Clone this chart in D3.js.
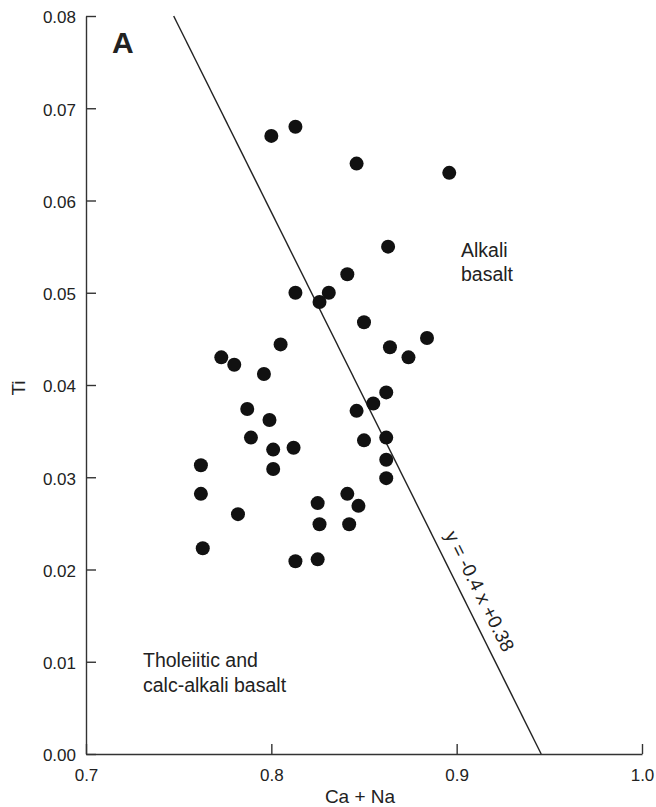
<!DOCTYPE html>
<html>
<head>
<meta charset="utf-8">
<script src="https://cdn.jsdelivr.net/npm/d3@7"></script>
<style>
  body { margin: 0; background: #fff; }
  svg text { font-family: "Liberation Sans", Arial, sans-serif; fill: #222; }
</style>
</head>
<body>
<div id="chart"></div>
<script>
// Ca + Na (x) and Ti (y) for each sample
var caNa = [0.800, 0.813, 0.846, 0.896, 0.863, 0.841, 0.813, 0.831, 0.826, 0.850,
            0.884, 0.805, 0.864, 0.874, 0.773, 0.780, 0.796, 0.787, 0.799, 0.862,
            0.855, 0.846, 0.789, 0.801, 0.812, 0.850, 0.862, 0.762, 0.801, 0.862,
            0.862, 0.762, 0.782, 0.825, 0.841, 0.847, 0.826, 0.842, 0.763, 0.813,
            0.825];
var ti = [0.0670, 0.0680, 0.0640, 0.0630, 0.0550, 0.0520, 0.0500, 0.0500, 0.0490, 0.0468,
          0.0451, 0.0444, 0.0441, 0.0430, 0.0430, 0.0422, 0.0412, 0.0374, 0.0362, 0.0392,
          0.0380, 0.0372, 0.0343, 0.0330, 0.0332, 0.0340, 0.0343, 0.0313, 0.0309, 0.0319,
          0.0299, 0.0282, 0.0260, 0.0272, 0.0282, 0.0269, 0.0249, 0.0249, 0.0223, 0.0209,
          0.0211];

// dividing line y = -0.4x + 0.38, as drawn (ends)
var lineX = [0.7473, 0.9456];
var lineY = [0.08, 0.00];

var xTicks = [0.7, 0.8, 0.9, 1.0];
var yTicks = [0.00, 0.01, 0.02, 0.03, 0.04, 0.05, 0.06, 0.07, 0.08];

var width = 656, height = 807;

var svg = d3.select("#chart")
    .append("svg")
    .attr("width", width)
    .attr("height", height);

var xScale = d3.scaleLinear().domain([0.7, 1.0]).range([86, 642]);
var yScale = d3.scaleLinear().domain([0, 0.08]).range([754, 16]);

var axisColor = "#333";

// x axis, ticks pointing inward
var xAxis = svg.append("g")
    .attr("transform", `translate(0, ${yScale(0)})`)
    .call(d3.axisTop(xScale).tickValues(xTicks).tickSize(10).tickSizeOuter(0).tickFormat(d3.format(".1f")));
xAxis.select(".domain").attr("stroke", axisColor).attr("stroke-width", 1.4);
xAxis.selectAll(".tick line").attr("stroke", axisColor).attr("stroke-width", 1.4);
xAxis.selectAll(".tick text")
    .attr("y", 27)
    .attr("dy", 0)
    .style("font-size", "17px");

// y axis, ticks pointing inward
var yAxis = svg.append("g")
    .attr("transform", `translate(${xScale(0.7)}, 0)`)
    .call(d3.axisRight(yScale).tickValues(yTicks).tickSize(10).tickSizeOuter(0).tickFormat(d3.format(".2f")));
yAxis.select(".domain").attr("stroke", axisColor).attr("stroke-width", 1.4);
yAxis.selectAll(".tick line").attr("stroke", axisColor).attr("stroke-width", 1.4);
yAxis.selectAll(".tick text")
    .attr("x", -10)
    .attr("dy", "0.4em")
    .attr("text-anchor", "end")
    .style("font-size", "17px");

// axis titles
svg.append("text")
    .attr("x", 360)
    .attr("y", 803)
    .attr("text-anchor", "middle")
    .style("font-size", "19px")
    .text("Ca + Na");

svg.append("text")
    .attr("transform", `translate(25, ${yScale(0.04) + 3}) rotate(-90)`)
    .attr("text-anchor", "middle")
    .style("font-size", "19px")
    .text("Ti");

// panel letter
svg.append("text")
    .attr("x", 112)
    .attr("y", 53)
    .style("font-size", "30px")
    .style("font-weight", "bold")
    .text("A");

// dividing line
var linePts = lineX.map(function(d, i) { return [d, lineY[i]]; });
svg.append("path")
    .datum(linePts)
    .attr("d", d3.line().x(function(d) { return xScale(d[0]); }).y(function(d) { return yScale(d[1]); }))
    .attr("fill", "none")
    .attr("stroke", "#222")
    .attr("stroke-width", 1.4);

// equation label along the line
var x0 = xScale(lineX[0]), y0 = yScale(lineY[0]);
var x1 = xScale(lineX[1]), y1 = yScale(lineY[1]);
var angle = Math.atan2(y1 - y0, x1 - x0) * 180 / Math.PI;
var t = 0.79;
svg.append("text")
    .attr("transform", `translate(${x0 + t * (x1 - x0)}, ${y0 + t * (y1 - y0)}) rotate(${angle})`)
    .attr("y", -11)
    .attr("text-anchor", "middle")
    .style("font-size", "19px")
    .text("y = -0.4 x +0.38");

// region labels
var alk = svg.append("text").style("font-size", "19.5px");
alk.append("tspan").attr("x", 461).attr("y", 257).text("Alkali");
alk.append("tspan").attr("x", 461).attr("y", 281).text("basalt");

var thol = svg.append("text").style("font-size", "19.5px");
thol.append("tspan").attr("x", 143).attr("y", 667).text("Tholeiitic and");
thol.append("tspan").attr("x", 143).attr("y", 692).text("calc-alkali basalt");

// samples
svg.selectAll("circle.pt")
    .data(caNa)
    .enter()
    .append("circle")
    .attr("class", "pt")
    .attr("cx", function(d) { return xScale(d); })
    .attr("cy", function(d, i) { return yScale(ti[i]); })
    .attr("r", 7)
    .attr("fill", "#111");
</script>
</body>
</html>
